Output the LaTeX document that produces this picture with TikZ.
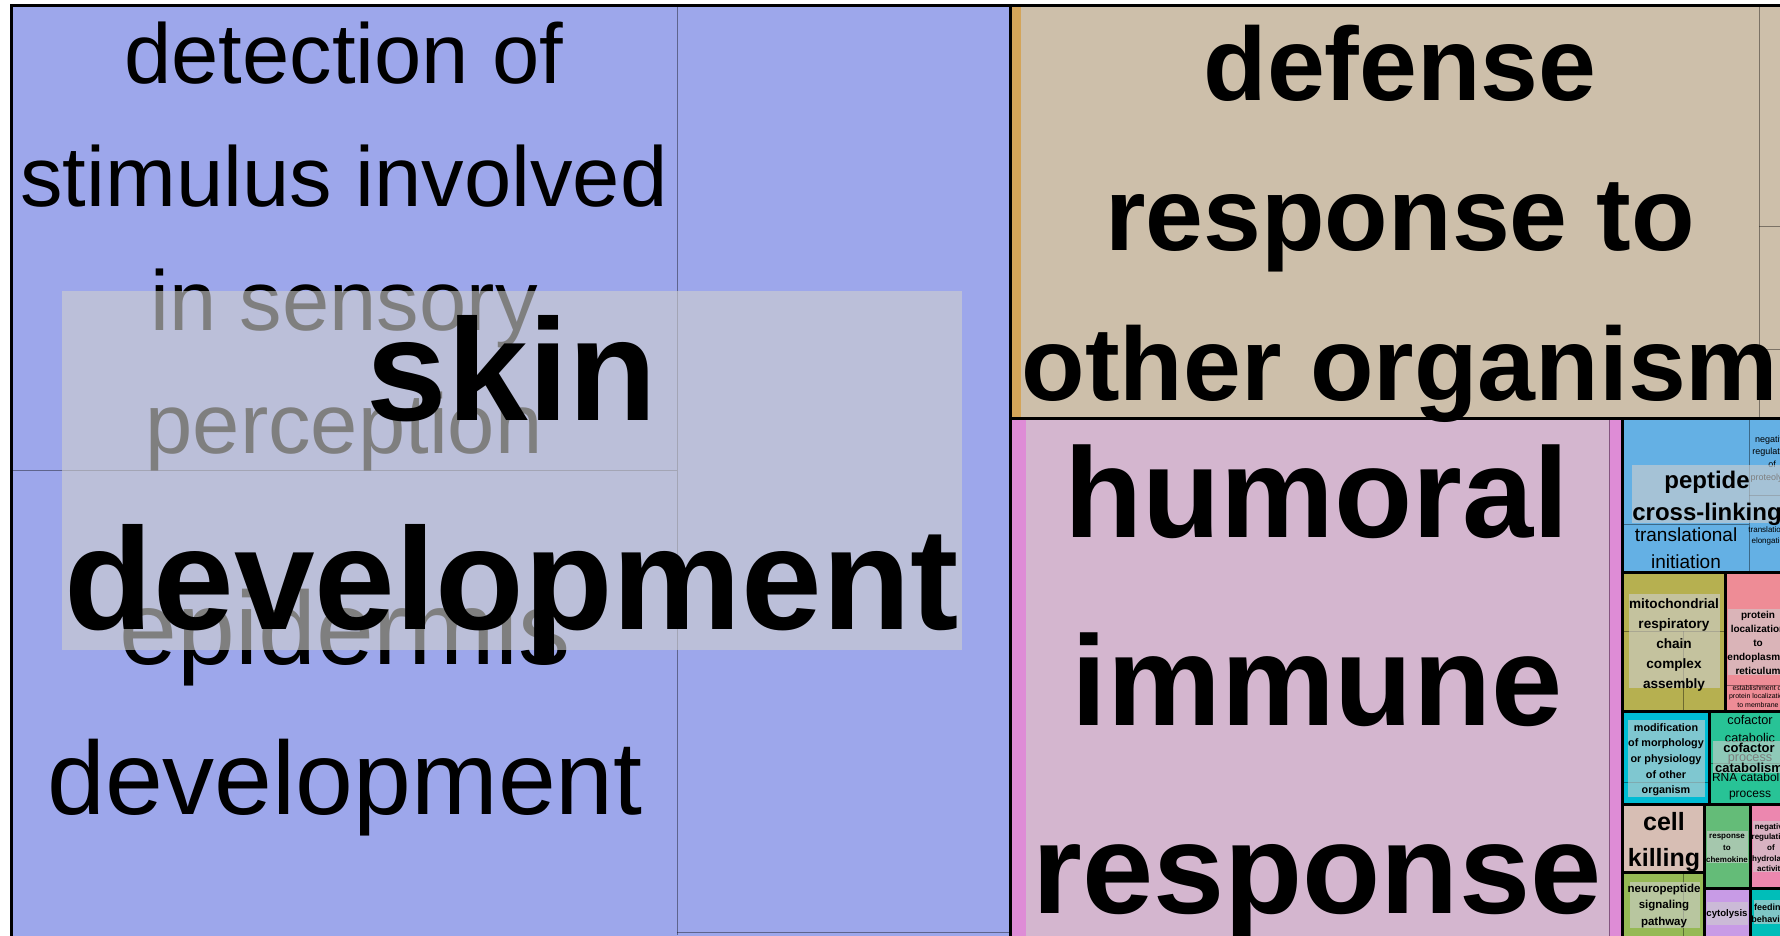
\documentclass[tikz,border=0pt]{standalone}
\usepackage{fontspec}
\setmainfont{Liberation Sans}
\usepackage{tikz}

\definecolor{skinblue}{RGB}{157,167,235}
\definecolor{defensetan}{RGB}{205,191,170}
\definecolor{defensestrip}{RGB}{212,165,90}
\definecolor{humoralpink}{RGB}{212,182,207}
\definecolor{humoralstrip}{RGB}{222,140,214}
\definecolor{peptideblue}{RGB}{100,176,228}
\definecolor{mitoolive}{RGB}{182,176,80}
\definecolor{erpink}{RGB}{238,140,150}
\definecolor{morphcyan}{RGB}{0,188,212}
\definecolor{cofactorgreen}{RGB}{40,195,150}
\definecolor{killingrose}{RGB}{215,190,180}
\definecolor{neurogreen}{RGB}{150,185,85}
\definecolor{chemokinegreen}{RGB}{100,188,120}
\definecolor{hydrolasepink}{RGB}{236,135,175}
\definecolor{cytolysispurple}{RGB}{200,155,230}
\definecolor{feedingteal}{RGB}{0,190,185}
\definecolor{boxgray}{RGB}{206,206,206}

% one node per text line, first baseline at y, then step dy
\newcommand{\tmlines}[6]{%
	\foreach \tx [count=\nr] in {#6}
		\node[#5] (#1\nr) at (#2,{#3+(\nr-1)*#4}) {\tx};}

\begin{document}
\begin{tikzpicture}[x=1pt,y=-1pt,
	tile/.style={fill=#1},
	sub/.style={draw=black,draw opacity=0.4,line width=1pt},
	frame/.style={draw=black,line width=3pt},
	lblbox/.style={fill=boxgray,fill opacity=0.62},
	rep/.style={font={\fontsize{#1}{#1}\selectfont\bfseries},inner sep=0pt,anchor=base},
	term/.style={font={\fontsize{#1}{#1}\selectfont},inner sep=0pt,anchor=base}]
	\useasboundingbox (0,0) rectangle (1780,935);
	\clip (0,0) rectangle (1780,935);
	% tiles
	\fill[tile=skinblue] (11,5) rectangle (1010,940);
	\fill[tile=defensetan] (1010,5) rectangle (1800,418);
	\fill[tile=defensestrip] (1012,5) rectangle (1021,418);
	\fill[tile=humoralpink] (1010,418) rectangle (1622,940);
	\fill[tile=humoralstrip] (1012,418) rectangle (1026,940);
	\fill[tile=humoralstrip] (1609,418) rectangle (1622,940);
	\fill[tile=peptideblue] (1622,418) rectangle (1800,572);
	\fill[tile=mitoolive] (1622,572) rectangle (1725,711);
	\fill[tile=erpink] (1725,572) rectangle (1800,711);
	\fill[tile=morphcyan] (1622,711) rectangle (1709,804);
	\fill[tile=cofactorgreen] (1709,711) rectangle (1800,804);
	\fill[tile=killingrose] (1622,804) rectangle (1704,872);
	\fill[tile=neurogreen] (1622,872) rectangle (1704,940);
	\fill[tile=chemokinegreen] (1704,804) rectangle (1750,888);
	\fill[tile=hydrolasepink] (1750,804) rectangle (1800,888);
	\fill[tile=cytolysispurple] (1704,888) rectangle (1750,940);
	\fill[tile=feedingteal] (1750,888) rectangle (1800,940);
	% thin lines inside the clusters
	\draw[sub] (677,5) -- (677,935);
	\draw[sub] (11,470) -- (677,470);
	\draw[sub] (677,932) -- (1010,932);
	\draw[sub] (1759,5) -- (1759,418);
	\draw[sub] (1759,226) -- (1800,226);
	\draw[sub] (1759,349) -- (1800,349);
	\draw[sub] (1609,418) -- (1609,940);
	\draw[sub] (1749,418) -- (1749,572);
	\draw[sub] (1622,524) -- (1749,524);
	\draw[sub] (1749,495) -- (1800,495);
	\draw[sub] (1622,631) -- (1725,631);
	\draw[sub] (1683,631) -- (1683,711);
	\draw[sub] (1725,685) -- (1800,685);
	\draw[sub] (1622,782) -- (1709,782);
	\draw[sub] (1709,763) -- (1800,763);
	\draw[sub] (1683,872) -- (1683,940);
	% member terms
	\tmlines{det}{344}{83}{123.5}{term=85}{detection of,stimulus involved,in sensory,perception}
	\tmlines{epi}{345}{664}{150}{term=104}{epidermis,development}
	\tmlines{tri}{1686}{541}{27.5}{term=19}{translational,initiation}
	\tmlines{neg}{1772}{442}{12.8}{term=9}{negative,regulation,of,proteolysis}
	\tmlines{elo}{1770}{532}{11.5}{term=8}{translational,elongation}
	\tmlines{est}{1758}{690}{8.5}{term=7}{establishment of,protein localization,to membrane}
	\tmlines{cfp}{1750}{724}{18.5}{term=12.7}{cofactor,catabolic,process}
	\tmlines{rna}{1750}{781}{16}{term=12}{RNA catabolic,process}
	% label boxes
	\fill[lblbox] (62,291) rectangle (962,650);
	\fill[lblbox] (1632,465) rectangle (1782,523);
	\fill[lblbox] (1629,594) rectangle (1720,688);
	\fill[lblbox] (1728,609) rectangle (1790,675);
	\fill[lblbox] (1628,720) rectangle (1705,797);
	\fill[lblbox] (1713,741) rectangle (1790,773);
	\fill[lblbox] (1630,882) rectangle (1700,928);
	\fill[lblbox] (1707,831) rectangle (1748,863);
	\fill[lblbox] (1753,821) rectangle (1800,872);
	\fill[lblbox] (1707,902) rectangle (1748,925);
	\fill[lblbox] (1754,900) rectangle (1800,924);
	% cluster borders
	\draw[frame] (11,5) rectangle (1800,940);
	\draw[frame] (1010,5) -- (1010,940);
	\draw[frame] (1010,418) -- (1800,418);
	\draw[frame] (1622,418) -- (1622,940);
	\draw[frame] (1622,572) -- (1800,572);
	\draw[frame] (1725,572) -- (1725,711);
	\draw[frame] (1622,711) -- (1800,711);
	\draw[frame] (1709,711) -- (1709,804);
	\draw[frame] (1622,804) -- (1800,804);
	\draw[frame] (1704,804) -- (1704,940);
	\draw[frame] (1622,872) -- (1704,872);
	\draw[frame] (1704,888) -- (1800,888);
	\draw[frame] (1750,804) -- (1750,940);
	% representatives
	\tmlines{skin}{512}{420}{209}{rep=145}{skin,development}
	\tmlines{def}{1400}{100}{150}{rep=104}{defense,response to,other organism}
	\tmlines{hum}{1317}{537}{188}{rep=128}{humoral,immune,response}
	\tmlines{pep}{1707}{488}{32}{rep=24}{peptide,cross-linking}
	\tmlines{mito}{1674}{608}{20}{rep=13.6}{mitochondrial,respiratory,chain,complex,assembly}
	\tmlines{er}{1758}{618}{14}{rep=10}{protein,localization,to,endoplasmic,reticulum}
	\tmlines{morph}{1666}{731}{15.7}{rep=10.8}{modification,of morphology,or physiology,of other,organism}
	\tmlines{cof}{1749}{752}{20}{rep=13}{cofactor,catabolism}
	\tmlines{kill}{1664}{830}{36}{rep=25}{cell,killing}
	\tmlines{neuro}{1664}{892}{16.5}{rep=11.5}{neuropeptide,signaling,pathway}
	\tmlines{chemo}{1727}{838}{12}{rep=8}{response,to,chemokine}
	\tmlines{hyd}{1771}{829}{10.7}{rep=8}{negative,regulation,of,hydrolase,activity}
	\tmlines{cyto}{1727}{916}{0}{rep=9.6}{cytolysis}
	\tmlines{feed}{1770}{910}{12.5}{rep=9}{feeding,behavior}
\end{tikzpicture}
\end{document}
